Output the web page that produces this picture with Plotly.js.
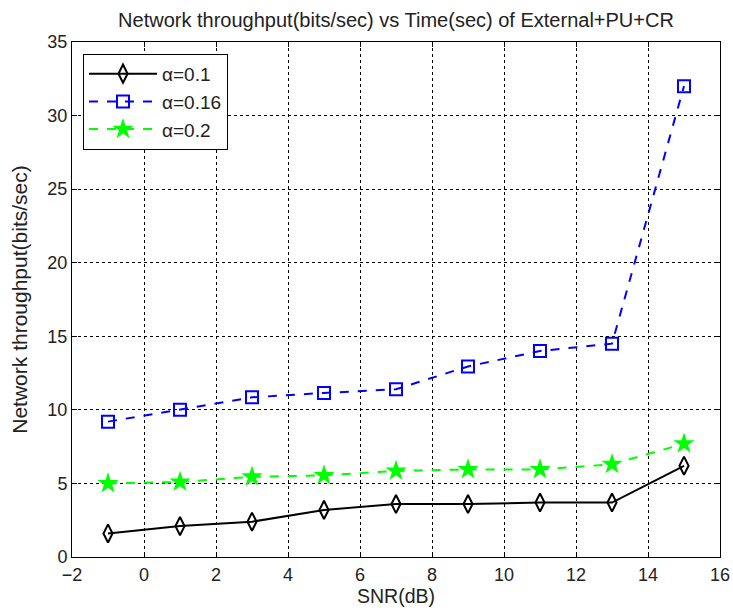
<!DOCTYPE html>
<html><head><meta charset="utf-8">
<script src="https://cdn.plot.ly/plotly-3.0.1.min.js"></script>
<style>html,body{margin:0;padding:0;background:#fff}#chart{width:733px;height:611px}</style>
</head><body><div id="chart"></div>
<script>
const snr = [-1, 1, 3, 5, 7, 9, 11, 13, 15];
const alpha01 = [1.6, 2.1, 2.4, 3.2, 3.6, 3.6, 3.7, 3.7, 6.2];
const alpha016 = [9.2, 10.0, 10.85, 11.15, 11.4, 12.95, 14.0, 14.5, 32.0];
const alpha02 = [5.0, 5.1, 5.45, 5.55, 5.85, 5.95, 5.95, 6.3, 7.7];
const names = ['α=0.1', 'α=0.16', 'α=0.2'];
const xTicks = [-2, 0, 2, 4, 6, 8, 10, 12, 14, 16];
const yTicks = [0, 5, 10, 15, 20, 25, 30, 35];

const font = 'Arial, "Liberation Sans", sans-serif';
const traces = [
  {x: snr, y: alpha01, name: names[0], mode: 'lines+markers',
   line: {color: '#000000', width: 2},
   marker: {symbol: 'diamond-tall-open', size: 13, color: '#000000', line: {width: 2}}},
  {x: snr, y: alpha016, name: names[1], mode: 'lines+markers',
   line: {color: '#0000ff', width: 2, dash: 'dash'},
   marker: {symbol: 'square-open', size: 12, color: '#0000ff', line: {width: 2}}},
  {x: snr, y: alpha02, name: names[2], mode: 'lines+markers',
   line: {color: '#00ff00', width: 2, dash: 'dash'},
   marker: {symbol: 'star', size: 16, color: '#00ff00', line: {width: 0}}}
];
const axisCommon = {
  showline: true, mirror: 'ticks', linecolor: '#000', linewidth: 1,
  ticks: 'inside', ticklen: 5, tickcolor: '#000',
  showgrid: true, gridcolor: '#000', griddash: 'dot', gridwidth: 1,
  zeroline: false, tickfont: {family: font, size: 18, color: '#222'}
};
const layout = {
  width: 733, height: 611,
  margin: {l: 72, r: 13, t: 42, b: 54},
  paper_bgcolor: '#fff', plot_bgcolor: '#fff',
  title: {text: 'Network throughput(bits/sec) vs Time(sec) of External+PU+CR',
          font: {family: font, size: 20, color: '#222'}, xref: 'paper', x: 0.5, xanchor: 'center',
          yref: 'container', y: 0.967, yanchor: 'middle'},
  xaxis: Object.assign({}, axisCommon, {range: [-2, 16], tickvals: xTicks, ticklabelstandoff: 1,
          title: {text: 'SNR(dB)', font: {family: font, size: 19.5, color: '#222'}, standoff: 0}}),
  yaxis: Object.assign({}, axisCommon, {range: [0, 35], tickvals: yTicks,
          title: {text: 'Network throughput(bits/sec)', font: {family: font, size: 21, color: '#222'}, standoff: 14}}),
  showlegend: true,
  legend: {x: 0.017, y: 0.977, xanchor: 'left', yanchor: 'top',
           bgcolor: '#fff', bordercolor: '#000', borderwidth: 1,
           font: {family: font, size: 19, color: '#222'}, tracegroupgap: 0, itemwidth: 68}
};
Plotly.newPlot('chart', traces, layout, {displayModeBar: false, staticPlot: true});
</script></body></html>
